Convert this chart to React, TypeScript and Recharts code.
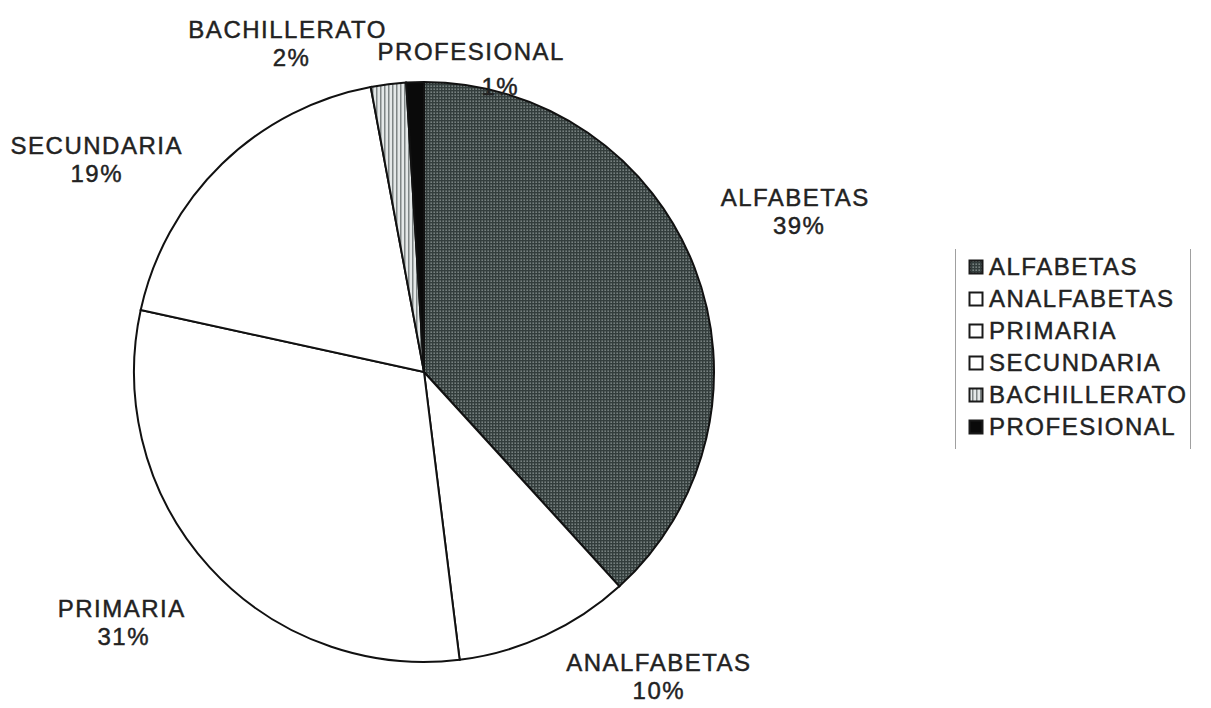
import React from "react";
import { PieChart, Pie, Cell, Legend } from "recharts";

const categories = ["ALFABETAS", "ANALFABETAS", "PRIMARIA", "SECUNDARIA", "BACHILLERATO", "PROFESIONAL"];
const percents = [39, 10, 31, 19, 2, 1];
const fills = ["url(#alfaPat)", "#ffffff", "#ffffff", "#ffffff", "url(#bachPat)", "#0a0a0a"];

// label placement relative to the slice mid-angle (layout only)
const labelAngleShift = [2.4, 13.0, -2.8, 12.7, 15.4, -10.5];
const labelRadius = [405, 384, 392, 391, 357, 311];
const pctShiftX = [4, 0, 2, 0, 4, 29];
const pctShiftY = [0, 0, 0, 0, 0, 7];

const data = categories.map((name, i) => ({ name, value: percents[i] }));

const RAD = Math.PI / 180;
const FONT = "'Liberation Sans', Arial, sans-serif";
const TXT = "#222222";

const renderLabel = (props: any) => {
  const { cx, cy, midAngle, index } = props;
  const a = (midAngle + labelAngleShift[index]) * RAD;
  const r = labelRadius[index];
  const x = cx + Math.cos(-a) * r;
  const y = cy + Math.sin(-a) * r;
  return (
    <g key={"lbl" + index}>
      <text x={x} y={y - 13} textAnchor="middle" dominantBaseline="central" fontFamily={FONT} fontSize={24} letterSpacing={1.5} fill={TXT} stroke={TXT} strokeWidth={0.45}>
        {categories[index]}
      </text>
      <text x={x + pctShiftX[index]} y={y + 15 + pctShiftY[index]} textAnchor="middle" dominantBaseline="central" fontFamily={FONT} fontSize={24} letterSpacing={1.5} fill={TXT} stroke={TXT} strokeWidth={0.45}>
        {percents[index] + "%"}
      </text>
    </g>
  );
};

const LegendBox = () => (
  <div
    style={{
      borderLeft: "1px solid #a0a0a0",
      borderRight: "1px solid #a0a0a0",
      padding: "2px 0 6px 0",
      width: 234,
      fontFamily: FONT,
      fontSize: 24,
      letterSpacing: 1.5,
      color: TXT,
      WebkitTextStroke: "0.45px #222222",
    }}
  >
    {categories.map((c, i) => (
      <div key={c} style={{ display: "flex", alignItems: "center", height: 32, paddingLeft: 12 }}>
        <svg width={16} height={16} style={{ marginRight: 5, flex: "none" }}>
          <rect x={1.5} y={1.5} width={13} height={13} fill={fills[i]} stroke="#1a1a1a" strokeWidth={2} />
        </svg>
        <span style={{ lineHeight: "32px", whiteSpace: "nowrap" }}>{c}</span>
      </div>
    ))}
  </div>
);

export default function App() {
  return (
    <div style={{ position: "absolute", left: 0, top: 0, width: 1211, height: 708, background: "#ffffff" }}>
      <PieChart width={1211} height={708} margin={{ top: 0, right: 0, bottom: 0, left: 0 }}>
        <defs>
          <pattern id="alfaPat" width={3} height={3} patternUnits="userSpaceOnUse">
            <rect width={3} height={3} fill="#76807f" />
            <rect width={3} height={1.4} fill="#333d3c" />
            <rect width={1.4} height={3} fill="#333d3c" />
          </pattern>
          <pattern id="bachPat" width={4} height={4} patternUnits="userSpaceOnUse">
            <rect width={4} height={4} fill="#e4e8e8" />
            <rect width={1.5} height={4} fill="#7e8585" />
          </pattern>
        </defs>
        <Pie
          data={data}
          dataKey="value"
          nameKey="name"
          cx={424}
          cy={372}
          outerRadius={290}
          startAngle={90}
          endAngle={-270}
          fill="none"
          stroke="none"
          label={renderLabel}
          labelLine={false}
          isAnimationActive={false}
          legendType="none"
        >
          {data.map((d) => (
            <Cell key={d.name} fill="none" stroke="none" />
          ))}
        </Pie>
        <Pie
          data={data}
          dataKey="value"
          nameKey="name"
          cx={424}
          cy={372}
          outerRadius={290}
          startAngle={90}
          endAngle={-270}
          stroke="#111"
          strokeWidth={2}
          label={false}
          labelLine={false}
          isAnimationActive={false}
        >
          {data.map((d, i) => (
            <Cell key={d.name} fill={fills[i]} stroke="#111" strokeWidth={2} />
          ))}
        </Pie>
        <Legend
          layout="vertical"
          content={() => <LegendBox />}
          wrapperStyle={{ position: "absolute", left: 955, top: 249, width: 236 }}
        />
      </PieChart>
    </div>
  );
}
